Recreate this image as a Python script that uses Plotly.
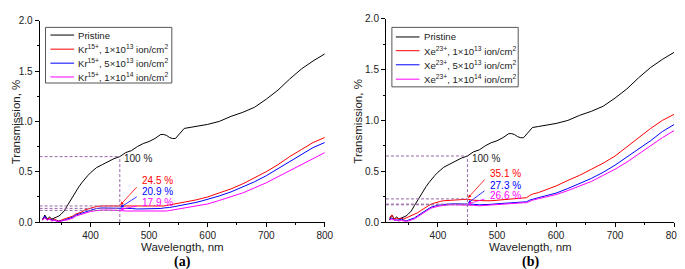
import plotly.graph_objects as go

# ---------------- data ----------------
wavelength = [318, 322, 326, 330, 334, 338, 342, 346, 350, 355, 360, 365, 370, 375, 380, 385, 390, 395,
              400, 405, 410, 420, 430, 440, 450, 460, 470, 480, 490, 500, 510, 515, 520, 525, 530, 535,
              540, 545, 550, 555, 560, 570, 580, 590, 600, 620, 640, 660, 680, 700, 720, 740, 760, 780, 800]

pristine = [0.02, 0.07, 0.03, 0.05, 0.03, 0.04, 0.05, 0.06, 0.08, 0.11, 0.16, 0.21, 0.25, 0.30, 0.35, 0.39, 0.43, 0.46,
            0.49, 0.52, 0.54, 0.57, 0.60, 0.63, 0.65, 0.69, 0.71, 0.75, 0.78, 0.80, 0.83, 0.85, 0.87, 0.87, 0.86, 0.84,
            0.83, 0.83, 0.86, 0.90, 0.93, 0.94, 0.95, 0.96, 0.97, 1.00, 1.05, 1.09, 1.14, 1.22, 1.31, 1.42, 1.52, 1.60, 1.67]

kr_1e13 = [0.03, 0.05, 0.03, 0.04, 0.02, 0.03, 0.02, 0.01, 0.02, 0.03, 0.04, 0.05, 0.06, 0.08, 0.09, 0.10, 0.12, 0.13,
           0.14, 0.15, 0.155, 0.16, 0.16, 0.16, 0.16, 0.16, 0.16, 0.155, 0.155, 0.155, 0.155, 0.155, 0.16, 0.16, 0.165, 0.17,
           0.175, 0.18, 0.185, 0.19, 0.195, 0.205, 0.22, 0.235, 0.25, 0.29, 0.33, 0.38, 0.44, 0.50, 0.57, 0.65, 0.72, 0.79, 0.84]

kr_5e13 = [0.03, 0.06, 0.02, 0.03, 0.02, 0.02, 0.01, 0.01, 0.01, 0.02, 0.03, 0.04, 0.05, 0.07, 0.08, 0.09, 0.10, 0.11,
           0.12, 0.13, 0.135, 0.14, 0.14, 0.14, 0.14, 0.135, 0.135, 0.13, 0.13, 0.13, 0.13, 0.13, 0.135, 0.14, 0.14, 0.145,
           0.15, 0.155, 0.16, 0.165, 0.17, 0.18, 0.195, 0.21, 0.225, 0.26, 0.30, 0.35, 0.40, 0.46, 0.53, 0.60, 0.67, 0.74, 0.79]

kr_1e14 = [0.02, 0.04, 0.02, 0.03, 0.01, 0.02, 0.01, 0.0, 0.01, 0.02, 0.02, 0.03, 0.04, 0.06, 0.07, 0.08, 0.09, 0.10,
           0.105, 0.11, 0.115, 0.12, 0.12, 0.12, 0.115, 0.11, 0.11, 0.105, 0.105, 0.105, 0.105, 0.105, 0.105, 0.11, 0.11, 0.115,
           0.12, 0.12, 0.125, 0.13, 0.135, 0.145, 0.155, 0.17, 0.18, 0.215, 0.25, 0.29, 0.34, 0.39, 0.45, 0.51, 0.57, 0.63, 0.69]

xe_1e13 = [0.04, 0.07, 0.03, 0.04, 0.03, 0.04, 0.03, 0.04, 0.05, 0.06, 0.08, 0.09, 0.11, 0.13, 0.15, 0.165, 0.18, 0.19,
           0.20, 0.205, 0.21, 0.215, 0.22, 0.22, 0.225, 0.215, 0.21, 0.21, 0.21, 0.215, 0.22, 0.22, 0.225, 0.225, 0.23, 0.23,
           0.235, 0.235, 0.24, 0.26, 0.275, 0.29, 0.31, 0.33, 0.355, 0.41, 0.46, 0.52, 0.58, 0.65, 0.74, 0.83, 0.92, 1.00, 1.06]

xe_5e13 = [0.03, 0.04, 0.02, 0.02, 0.02, 0.03, 0.02, 0.01, 0.02, 0.03, 0.04, 0.06, 0.08, 0.10, 0.12, 0.135, 0.15, 0.16,
           0.165, 0.17, 0.175, 0.178, 0.18, 0.18, 0.18, 0.175, 0.17, 0.17, 0.175, 0.18, 0.185, 0.185, 0.19, 0.19, 0.195, 0.195,
           0.195, 0.20, 0.20, 0.215, 0.225, 0.24, 0.255, 0.27, 0.285, 0.33, 0.38, 0.43, 0.49, 0.56, 0.64, 0.72, 0.80, 0.89, 0.96]

xe_1e14 = [0.02, 0.03, 0.02, 0.02, 0.01, 0.02, 0.01, 0.01, 0.01, 0.02, 0.03, 0.05, 0.07, 0.09, 0.11, 0.125, 0.14, 0.15,
           0.155, 0.16, 0.165, 0.17, 0.17, 0.17, 0.17, 0.165, 0.16, 0.165, 0.17, 0.17, 0.175, 0.175, 0.18, 0.18, 0.185, 0.185,
           0.19, 0.19, 0.19, 0.205, 0.215, 0.23, 0.245, 0.26, 0.27, 0.31, 0.355, 0.40, 0.46, 0.52, 0.59, 0.67, 0.75, 0.83, 0.90]

ref_wavelength = 450
pristine_at_ref = 0.65
kr_at_ref = [0.160, 0.136, 0.116]
kr_percent = ["24.5 %", "20.9 %", "17.9 %"]
xe_at_ref = [0.228, 0.177, 0.170]
xe_percent = ["35.1 %", "27.3 %", "26.6 %"]

kr_names = ["Kr<sup>15+</sup>, 1×10<sup>13</sup> ion/cm<sup>2</sup>",
            "Kr<sup>15+</sup>, 5×10<sup>13</sup> ion/cm<sup>2</sup>",
            "Kr<sup>15+</sup>, 1×10<sup>14</sup> ion/cm<sup>2</sup>"]
xe_names = ["Xe<sup>23+</sup>, 1×10<sup>13</sup> ion/cm<sup>2</sup>",
            "Xe<sup>23+</sup>, 5×10<sup>13</sup> ion/cm<sup>2</sup>",
            "Xe<sup>23+</sup>, 1×10<sup>14</sup> ion/cm<sup>2</sup>"]

x_ticks = [400, 500, 600, 700, 800]
y_ticks = [0.0, 0.5, 1.0, 1.5, 2.0]

# ---------------- styling ----------------
W, H = 685, 269
FONT = "Arial, Liberation Sans, sans-serif"
colors = ["#FF0000", "#0000FF", "#FF00FF"]
DASH_C = "#9B67A8"
left_xrange = [313, 800]
right_xrange = [312, 800]
yrange = [0, 2.0]

fig = go.Figure()

panels = [
    dict(xa="x", ya="y", series=[kr_1e13, kr_5e13, kr_1e14], names=kr_names,
         at_ref=kr_at_ref, pct=kr_percent, xr=left_xrange, lab_y=[0.41, 0.30, 0.195],
         leg_box=(38, 166, 15, 73), leg_line=(43, 67), leg_text=69, leg_rows=[23, 37.7, 52.3, 66.7]),
    dict(xa="x2", ya="y2", series=[xe_1e13, xe_5e13, xe_1e14], names=xe_names,
         at_ref=xe_at_ref, pct=xe_percent, xr=right_xrange, lab_y=[0.48, 0.36, 0.265],
         leg_box=(389, 517, 15, 77), leg_line=(393, 417), leg_text=420, leg_rows=[25, 39.3, 54, 69]),
]

annotations = []
shapes = []
legfont = dict(family=FONT, size=9.6, color="#222")
for p in panels:
    fig.add_trace(go.Scatter(x=wavelength, y=pristine, mode="lines", name="Pristine",
                             line=dict(color="black", width=1), xaxis=p["xa"], yaxis=p["ya"],
                             showlegend=False))
    for vals, nm, c in zip(p["series"], p["names"], colors):
        fig.add_trace(go.Scatter(x=wavelength, y=vals, mode="lines", name=nm,
                                 line=dict(color=c, width=1), xaxis=p["xa"], yaxis=p["ya"],
                                 showlegend=False))
    # dashed guide lines
    levels = [pristine_at_ref] + p["at_ref"]
    for lv in levels:
        fig.add_trace(go.Scatter(x=[p["xr"][0], ref_wavelength], y=[lv, lv], mode="lines",
                                 line=dict(color=DASH_C, width=1, dash="3px,2px"),
                                 showlegend=False, hoverinfo="skip", xaxis=p["xa"], yaxis=p["ya"]))
    fig.add_trace(go.Scatter(x=[ref_wavelength, ref_wavelength], y=[0, pristine_at_ref], mode="lines",
                             line=dict(color=DASH_C, width=1, dash="3px,2px"),
                             showlegend=False, hoverinfo="skip", xaxis=p["xa"], yaxis=p["ya"]))
    # "100 %" label
    annotations.append(dict(x=ref_wavelength + 4, y=pristine_at_ref - 0.02, xref=p["xa"], yref=p["ya"],
                            text="100 %", showarrow=False, xanchor="left", yanchor="middle",
                            font=dict(family=FONT, size=10, color="#222")))
    # percentage labels with arrows
    for lv, txt, c, ly in zip(p["at_ref"], p["pct"], colors, p["lab_y"]):
        annotations.append(dict(x=ref_wavelength + 1, y=lv + 0.01, xref=p["xa"], yref=p["ya"],
                                ax=ref_wavelength + 34, ay=ly - 0.03, axref=p["xa"], ayref=p["ya"],
                                text=" ", showarrow=True, arrowhead=2, arrowsize=0.8, arrowwidth=0.8,
                                arrowcolor=c, standoff=0, startstandoff=0))
        annotations.append(dict(x=ref_wavelength + 35, y=ly, xref=p["xa"], yref=p["ya"],
                                text=txt, showarrow=False, xanchor="left", yanchor="middle",
                                font=dict(family=FONT, size=10, color=c)))
    # legend box (drawn from the series names and colours)
    x0, x1, y0, y1 = p["leg_box"]
    shapes.append(dict(type="rect", xref="paper", yref="paper", x0=x0 / W, x1=x1 / W,
                       y0=1 - y1 / H, y1=1 - y0 / H, line=dict(color="#555", width=1), fillcolor="white",
                       layer="above"))
    for nm, c, ry in zip(["Pristine"] + p["names"], ["black"] + colors, p["leg_rows"]):
        shapes.append(dict(type="line", xref="paper", yref="paper", x0=p["leg_line"][0] / W,
                           x1=p["leg_line"][1] / W, y0=1 - ry / H, y1=1 - ry / H,
                           line=dict(color=c, width=1), layer="above"))
        annotations.append(dict(x=p["leg_text"] / W, y=1 - ry / H, xref="paper", yref="paper", text=nm,
                                showarrow=False, xanchor="left", yanchor="middle", font=legfont))

dom_left = [32 / W, 321 / W]
dom_right = [383 / W, 675 / W]
ydom_left = [1 - 218 / H, 1 - 8 / H]
ydom_right = [1 - 218 / H, 1 - 6 / H]

tickfont = dict(family=FONT, size=10, color="#222")

def xaxis_main(xr, dom, anchor):
    return dict(range=xr, domain=dom, anchor=anchor, tickvals=x_ticks, ticks="outside", ticklen=4,
                tickwidth=1, tickcolor="black", showline=True, linecolor="black", linewidth=1,
                showgrid=False, zeroline=False, tickfont=tickfont,
                minor=dict(dtick=50, tick0=0, ticks="outside", ticklen=2, tickcolor="black", showgrid=False))

def yaxis_main(dom, anchor):
    return dict(range=yrange, domain=dom, anchor=anchor, tickvals=y_ticks, tickformat=".1f", ticks="outside",
                ticklen=4, tickwidth=1, tickcolor="black", showline=True, linecolor="black", linewidth=1,
                showgrid=False, zeroline=False, tickfont=tickfont,
                minor=dict(dtick=0.25, tick0=0, ticks="outside", ticklen=2, tickcolor="black", showgrid=False))

def xaxis_top(xr, over, anchor):
    return dict(range=xr, overlaying=over, side="top", anchor=anchor, tickvals=x_ticks, ticks="inside",
                ticklen=4, tickcolor="black", showticklabels=False, showline=True, linecolor="black",
                showgrid=False, zeroline=False,
                minor=dict(dtick=50, tick0=0, ticks="inside", ticklen=2, tickcolor="black", showgrid=False))

def yaxis_right(over, anchor):
    return dict(range=yrange, overlaying=over, side="right", anchor=anchor, tickvals=y_ticks, ticks="inside",
                ticklen=4, tickcolor="black", showticklabels=False, showline=True, linecolor="black",
                showgrid=False, zeroline=False,
                minor=dict(dtick=0.25, tick0=0, ticks="inside", ticklen=2, tickcolor="black", showgrid=False))

titlefont = dict(family=FONT, size=11.5, color="#222")
for cx in [(32 + 321) / 2 / W, (383 + 675) / 2 / W]:
    annotations.append(dict(x=cx, y=1 - 244 / H, xref="paper", yref="paper", text="Wavelength, nm",
                            showarrow=False, xanchor="center", yanchor="middle", font=titlefont, borderpad=0))
annotations.append(dict(x=8 / W, y=1 - 113 / H, xref="paper", yref="paper", text="Transmission, %",
                        showarrow=False, textangle=-90, xanchor="center", yanchor="middle", font=titlefont))
annotations.append(dict(x=355 / W, y=1 - 113 / H, xref="paper", yref="paper", text="Transmission, %",
                        showarrow=False, textangle=-90, xanchor="center", yanchor="middle", font=titlefont))
serif = dict(family="Liberation Serif, Times New Roman, serif", size=14, color="black")
annotations.append(dict(x=(32 + 321) / 2 / W, y=0.0, xref="paper", yref="paper", text="<b>(a)</b>",
                        showarrow=False, xanchor="center", yanchor="bottom", font=serif, borderpad=0))
annotations.append(dict(x=(383 + 675) / 2 / W, y=0.0, xref="paper", yref="paper", text="<b>(b)</b>",
                        showarrow=False, xanchor="center", yanchor="bottom", font=serif, borderpad=0))

fig.update_layout(
    width=W, height=H, margin=dict(l=0, r=0, t=0, b=0),
    paper_bgcolor="white", plot_bgcolor="white",
    xaxis=xaxis_main(left_xrange, dom_left, "y"),
    yaxis=yaxis_main(ydom_left, "x"),
    xaxis2=xaxis_main(right_xrange, dom_right, "y2"),
    yaxis2=yaxis_main(ydom_right, "x2"),
    xaxis3=xaxis_top(left_xrange, "x", "y"),
    yaxis3=yaxis_right("y", "x"),
    xaxis4=xaxis_top(right_xrange, "x2", "y2"),
    yaxis4=yaxis_right("y2", "x2"),
    annotations=annotations,
    shapes=shapes,
    showlegend=False,
)

fig.write_html("out.html")
